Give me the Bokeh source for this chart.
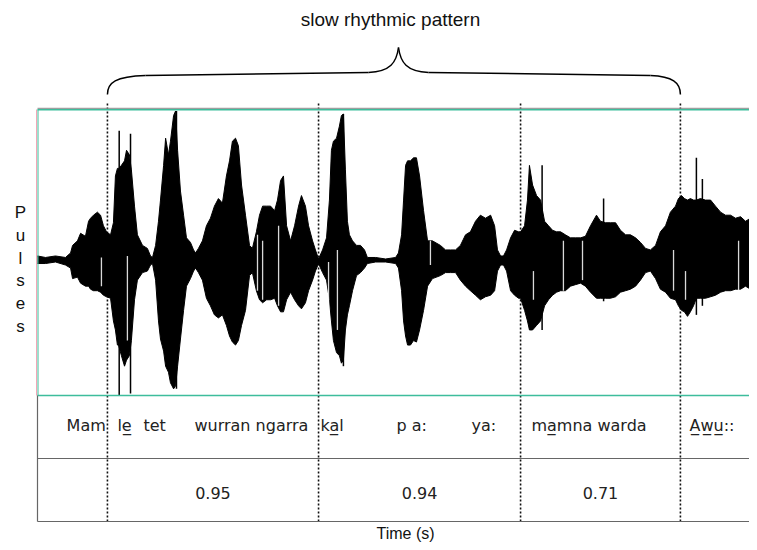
from bokeh.plotting import figure
from bokeh.models import Range1d, Label
from bokeh.core.properties import value
from bokeh.embed import file_html
from bokeh.resources import INLINE

# ---------------- data ----------------
# waveform envelope: time (s), upper and lower amplitude (relative units)
wave_t = [0.000, 0.036, 0.081, 0.126, 0.149, 0.158, 0.180, 0.194, 0.216, 0.230,
          0.239, 0.252, 0.270, 0.284, 0.297, 0.311, 0.329, 0.342, 0.351, 0.360,
          0.365, 0.378, 0.392, 0.401, 0.414, 0.423, 0.437, 0.450, 0.473, 0.495,
          0.509, 0.518, 0.532, 0.545, 0.554, 0.568, 0.577, 0.590, 0.599, 0.613,
          0.622, 0.631, 0.644, 0.658, 0.671, 0.689, 0.703, 0.712, 0.725, 0.743,
          0.761, 0.779, 0.797, 0.815, 0.833, 0.851, 0.865, 0.878, 0.892, 0.905,
          0.919, 0.937, 0.955, 0.968, 0.986, 1.000, 1.014, 1.032, 1.050, 1.068,
          1.081, 1.095, 1.108, 1.122, 1.140, 1.158, 1.176, 1.189, 1.207, 1.221,
          1.239, 1.252, 1.266, 1.284, 1.302, 1.315, 1.324, 1.333, 1.347, 1.360,
          1.369, 1.378, 1.387, 1.396, 1.405, 1.419, 1.437, 1.455, 1.473, 1.486,
          1.523, 1.568, 1.613, 1.626, 1.640, 1.649, 1.658, 1.667, 1.680, 1.694,
          1.707, 1.721, 1.739, 1.757, 1.779, 1.815, 1.838, 1.860, 1.883, 1.905,
          1.928, 1.950, 1.973, 1.995, 2.018, 2.041, 2.059, 2.072, 2.086, 2.099,
          2.113, 2.131, 2.149, 2.167, 2.176, 2.194, 2.207, 2.216, 2.230, 2.248,
          2.266, 2.284, 2.302, 2.320, 2.338, 2.356, 2.378, 2.401, 2.423, 2.446,
          2.468, 2.491, 2.518, 2.536, 2.559, 2.581, 2.604, 2.626, 2.649, 2.671,
          2.694, 2.716, 2.739, 2.761, 2.784, 2.806, 2.829, 2.851, 2.874, 2.887,
          2.901, 2.914, 2.928, 2.941, 2.955, 2.968, 2.986, 3.009, 3.032, 3.054,
          3.077, 3.099, 3.122, 3.144, 3.167, 3.189, 3.212, 3.243]
wave_hi = [0.03, 0.02, 0.03, 0.02, 0.05, 0.10, 0.13, 0.18, 0.16, 0.26,
           0.28, 0.30, 0.32, 0.30, 0.23, 0.19, 0.17, 0.25, 0.56, 0.61,
           0.61, 0.63, 0.66, 0.73, 0.70, 0.60, 0.36, 0.17, 0.10, 0.08,
           0.03, 0.02, 0.10, 0.26, 0.40, 0.63, 0.81, 0.70, 0.79, 0.96,
           0.99, 0.73, 0.46, 0.30, 0.15, 0.12, 0.07, 0.05, 0.08, 0.13,
           0.23, 0.28, 0.36, 0.41, 0.38, 0.56, 0.66, 0.79, 0.81, 0.76,
           0.50, 0.30, 0.10, 0.08, 0.19, 0.30, 0.36, 0.36, 0.36, 0.33,
           0.40, 0.53, 0.56, 0.23, 0.13, 0.23, 0.36, 0.43, 0.36, 0.23,
           0.13, 0.07, 0.01, 0.07, 0.15, 0.40, 0.73, 0.79, 0.81, 0.89,
           0.96, 0.97, 0.60, 0.26, 0.17, 0.13, 0.10, 0.10, 0.07, 0.02,
           0.02, 0.01, 0.02, 0.05, 0.17, 0.40, 0.63, 0.66, 0.66, 0.68,
           0.68, 0.56, 0.33, 0.13, 0.13, 0.10, 0.07, 0.07, 0.07, 0.10,
           0.17, 0.19, 0.26, 0.30, 0.28, 0.30, 0.23, 0.07, 0.03, 0.03,
           0.07, 0.15, 0.20, 0.19, 0.19, 0.23, 0.40, 0.63, 0.50, 0.43,
           0.40, 0.26, 0.23, 0.20, 0.19, 0.19, 0.17, 0.15, 0.15, 0.15,
           0.16, 0.23, 0.30, 0.26, 0.25, 0.25, 0.25, 0.20, 0.17, 0.17,
           0.15, 0.12, 0.08, 0.07, 0.10, 0.19, 0.23, 0.32, 0.36, 0.41,
           0.43, 0.41, 0.40, 0.41, 0.40, 0.40, 0.41, 0.40, 0.40, 0.36,
           0.32, 0.30, 0.30, 0.28, 0.29, 0.26, 0.28, 0.28]
wave_lo = [-0.02, -0.02, -0.01, -0.03, -0.05, -0.12, -0.11, -0.15, -0.17, -0.17,
           -0.19, -0.20, -0.20, -0.21, -0.23, -0.24, -0.25, -0.40, -0.46, -0.56,
           -0.56, -0.63, -0.70, -0.66, -0.63, -0.53, -0.26, -0.13, -0.08, -0.07,
           -0.03, -0.02, -0.13, -0.40, -0.52, -0.60, -0.70, -0.74, -0.81, -0.85,
           -0.83, -0.70, -0.52, -0.33, -0.17, -0.12, -0.07, -0.05, -0.08, -0.13,
           -0.25, -0.30, -0.36, -0.38, -0.36, -0.43, -0.50, -0.54, -0.56, -0.53,
           -0.43, -0.33, -0.10, -0.08, -0.20, -0.26, -0.28, -0.26, -0.26, -0.25,
           -0.30, -0.34, -0.34, -0.26, -0.21, -0.26, -0.30, -0.32, -0.28, -0.20,
           -0.13, -0.07, -0.02, -0.08, -0.13, -0.26, -0.40, -0.53, -0.61, -0.63,
           -0.68, -0.66, -0.46, -0.36, -0.30, -0.20, -0.10, -0.08, -0.05, -0.02,
           -0.01, -0.01, -0.02, -0.05, -0.20, -0.40, -0.50, -0.56, -0.56, -0.53,
           -0.54, -0.46, -0.33, -0.17, -0.12, -0.10, -0.08, -0.08, -0.08, -0.13,
           -0.17, -0.20, -0.23, -0.26, -0.24, -0.23, -0.20, -0.07, -0.03, -0.03,
           -0.07, -0.20, -0.23, -0.25, -0.25, -0.33, -0.40, -0.46, -0.46, -0.43,
           -0.40, -0.30, -0.26, -0.23, -0.21, -0.20, -0.20, -0.17, -0.16, -0.15,
           -0.17, -0.21, -0.25, -0.25, -0.25, -0.25, -0.24, -0.21, -0.20, -0.19,
           -0.17, -0.13, -0.08, -0.07, -0.12, -0.19, -0.21, -0.25, -0.26, -0.30,
           -0.33, -0.34, -0.37, -0.34, -0.30, -0.25, -0.25, -0.25, -0.24, -0.23,
           -0.21, -0.20, -0.20, -0.19, -0.19, -0.17, -0.19, -0.19]

# isolated tall pulses (s, upper, lower)
spike_t = [0.368, 0.419, 0.626, 1.378, 2.273, 2.550, 2.968, 2.995]
spike_hi = [0.86, 0.84, 0.99, 0.97, 0.63, 0.41, 0.68, 0.54]
spike_lo = [-0.89, -0.88, -0.85, -0.70, -0.46, -0.27, -0.36, -0.30]

# short drop-outs (white streaks) inside the waveform (s, upper, lower)
gap_t = [0.288, 0.405, 0.991, 1.014, 1.086, 1.311, 1.351, 1.770, 2.234,
         2.369, 2.455, 2.865, 2.919, 3.158]
gap_hi = [0.02, 0.03, 0.17, 0.13, 0.23, -0.01, 0.07, 0.13, -0.07,
          0.13, 0.13, 0.07, -0.07, 0.13]
gap_lo = [-0.17, -0.53, -0.20, -0.26, -0.30, -0.53, -0.46, -0.03, -0.26,
          -0.20, -0.13, -0.20, -0.26, -0.26]

# segment boundaries (s)
bound_t = [0.315, 1.266, 2.176, 2.896]

# transcription tier: words and their onset (s)
words = ["Mam", "le\u0332", "tet", "wurran ngarra", "ka\u0332l", "p a:", "ya:",
         "ma\u0332mna warda", "A\u0332w\u0332u\u0332::"]
word_t = [0.131, 0.360, 0.477, 0.707, 1.275, 1.617, 1.955, 2.225, 2.937]

# durations between boundaries
durations = ["0.95", "0.94", "0.71"]

# ---------------- layout helpers (reference pixel -> data) ----------------
X0, PX_PER_S = 37, 222.0
Y0, PX_PER_AMP = 260, 151.0


def tx(px):
    return (px - X0) / PX_PER_S


def ay(py):
    return (Y0 - py) / PX_PER_AMP


W, H = 749, 542
p = figure(width=W, height=H, output_backend="svg", toolbar_location=None,
           x_range=Range1d(tx(0), tx(W)), y_range=Range1d(ay(H), ay(0)),
           x_axis_type=None, y_axis_type=None, min_border=0)
p.outline_line_color = None
p.grid.visible = False
p.background_fill_color = "white"
p.border_fill_color = "white"

t_end = tx(W + 10)
TEAL = "#3dbd9c"
GRAY = "#666666"

# boundaries (dotted)
p.segment(x0=bound_t, x1=bound_t, y0=[ay(103)] * 4, y1=[ay(521)] * 4,
          line_color="#111111", line_width=1.6, line_dash="2 2")

# waveform
p.varea(x=wave_t, y1=wave_lo, y2=wave_hi, fill_color="black")
p.line(x=wave_t, y=wave_hi, line_color="black", line_width=1)
p.line(x=wave_t, y=wave_lo, line_color="black", line_width=1)
p.segment(x0=spike_t, x1=spike_t, y0=spike_lo, y1=spike_hi,
          line_color="black", line_width=1.5)
p.segment(x0=gap_t, x1=gap_t, y0=gap_lo, y1=gap_hi,
          line_color="white", line_width=1.3, line_alpha=0.85)

# waveform box
p.segment(x0=[tx(37)], x1=[t_end], y0=[ay(107.8)], y1=[ay(107.8)],
          line_color="#888888", line_width=1)
p.segment(x0=[tx(37), tx(37)], x1=[t_end, t_end], y0=[ay(109.3), ay(395)],
          y1=[ay(109.3), ay(395)], line_color=TEAL, line_width=1.6)
p.segment(x0=[tx(36)], x1=[tx(36)], y0=[ay(109)], y1=[ay(395)],
          line_color="#f2a6b6", line_width=1)
p.segment(x0=[tx(37.5)], x1=[tx(37.5)], y0=[ay(109)], y1=[ay(395)],
          line_color=TEAL, line_width=1)

# tiers
p.segment(x0=[tx(37), tx(37)], x1=[t_end, t_end], y0=[ay(458), ay(521)],
          y1=[ay(458), ay(521)], line_color=GRAY, line_width=1.2)
p.segment(x0=[tx(37)], x1=[tx(37)], y0=[ay(395)], y1=[ay(521)],
          line_color=GRAY, line_width=1.2)

p.text(x=word_t, y=[ay(425)] * len(words), text=words,
       text_font=value("DejaVu Sans"), text_font_size="16px",
       text_color="#222222", text_baseline="alphabetic", text_align="left")

mid_t = [(bound_t[i] + bound_t[i + 1]) / 2 for i in range(3)]
p.text(x=mid_t, y=[ay(492)] * 3, text=durations,
       text_font=value("DejaVu Sans"), text_font_size="16px",
       text_color="#222222", text_baseline="alphabetic", text_align="center")

# brace over the slow rhythmic pattern
L, R, M = bound_t[0], bound_t[3], tx(398)
p.bezier(x0=[L, tx(368), M, tx(650)], y0=[ay(94), ay(72), ay(47), ay(75)],
         x1=[tx(145), M, tx(428), R], y1=[ay(75), ay(47), ay(72), ay(94)],
         cx0=[L, tx(390), tx(400), tx(672)], cy0=[ay(82), ay(71), ay(62), ay(76)],
         cx1=[tx(115), tx(396), tx(406), R], cy1=[ay(76), ay(62), ay(71), ay(82)],
         line_color="black", line_width=1.5)
p.segment(x0=[tx(145), tx(428)], x1=[tx(368), tx(650)],
          y0=[ay(75), ay(72)], y1=[ay(72), ay(75)],
          line_color="black", line_width=1.5)

p.add_layout(Label(x=tx(390), y=ay(19), text="slow rhythmic pattern",
                   text_font="Liberation Sans", text_font_size="19px",
                   text_align="center", text_baseline="alphabetic",
                   text_color="#111111"))
p.add_layout(Label(x=tx(405), y=ay(533), text="Time (s)",
                   text_font="Liberation Sans", text_font_size="16px",
                   text_align="center", text_baseline="alphabetic",
                   text_color="#111111"))
p.add_layout(Label(x=tx(20), y=ay(269), text="P\nu\nl\ns\ne\ns",
                   text_font="Liberation Sans", text_font_size="17px",
                   text_align="center", text_baseline="middle",
                   text_line_height=1.2, text_color="#111111"))

open("out.html", "w").write(file_html(p, INLINE))
